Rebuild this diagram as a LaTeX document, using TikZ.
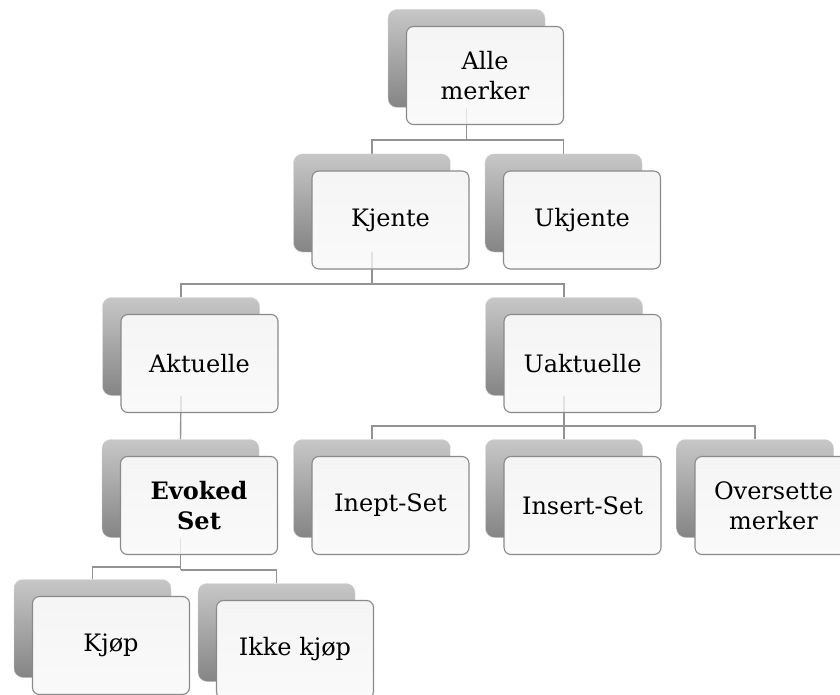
\documentclass[tikz,border=0pt]{standalone}
\usepackage{fontspec}
\setmainfont{DejaVu Serif}
\usetikzlibrary{calc}
\pgfdeclarelayer{wires}
\pgfdeclarelayer{ghost}
\pgfsetlayers{wires,main,ghost}
\definecolor{linegray}{HTML}{939393}
\definecolor{edgegray}{HTML}{8A8A8A}
\tikzset{
  backcard/.style={rectangle, rounded corners=9pt, minimum width=157pt,
    minimum height=98pt, inner sep=0pt, top color=black!22, bottom color=black!48,
    draw=black!18, line width=0.4pt},
  frontcard/.style={rectangle, rounded corners=7pt, minimum width=157pt,
    minimum height=98pt, inner sep=2pt, align=center, draw=edgegray,
    line width=1.1pt, top color=black!4, bottom color=black!2,
    font=\fontsize{24}{30}\selectfont},
  wire/.style={draw=linegray, line width=1.4pt},
  ghostwire/.style={draw=linegray, line width=1.2pt, draw opacity=0.22},
}
% one card: a shaded back panel and a lighter panel offset down and right
\newcommand{\card}[3]{%
  \node[backcard] (#1) at (#2) {};
  \node[frontcard] (#1f) at ($(#2)+(18.5,17)$) {#3};
}
\begin{document}
\begin{tikzpicture}[x=1pt,y=-1pt]
\useasboundingbox (0,0) rectangle (840,695);
\clip (0,0) rectangle (840,695);

\card{alle}{466.5,58.5}{Alle\\merker}
\card{kjente}{372,203}{Kjente}
\card{ukjente}{563.5,203}{Ukjente}
\card{aktuelle}{181,346.5}{Aktuelle}
\card{uaktuelle}{564,346.5}{Uaktuelle}
\card{evoked}{180.5,488.5}{\bfseries Evoked\\\bfseries Set}
\card{inept}{372,488.5}{Inept-Set}
\card{insert}{564,488.5}{Insert-Set}
\card{oversette}{755,488.5}{Oversette\\merker}
\card{kjop}{92.5,628.5}{Kjøp}
\card{ikke}{276.5,632.5}{Ikke kjøp}

% bus junctions of the tree
\coordinate (b1) at (466.5,140);
\coordinate (b2) at (372,284);
\coordinate (b3) at (564,426);
\coordinate (b4) at (180.5,567);
\coordinate (b5) at (180.5,570);

% connectors run behind the cards
\begin{pgfonlayer}{wires}
\draw[wire] (alle.south) -- (b1);
\draw[wire] (kjente.north) |- (b1);
\draw[wire] (ukjente.north) |- (b1);
\draw[wire] (kjente.south) -- (b2);
\draw[wire] (aktuelle.north) |- (b2);
\draw[wire] (uaktuelle.north) |- (b2);
\draw[wire] (aktuelle.south) -- (evoked.north);
\draw[wire] (uaktuelle.south) -- (b3);
\draw[wire] (inept.north) |- (b3);
\draw[wire] (insert.north) -- (b3);
\draw[wire] (oversette.north) |- (b3);
\draw[wire] (evoked.south) -- (b5);
\draw[wire] (kjop.north) |- (b4);
\draw[wire] (ikke.north) |- (b5);
\end{pgfonlayer}

% the stems shine faintly through the light front panels
\begin{pgfonlayer}{ghost}
\draw[ghostwire] (alle.south) -- (allef.south -| alle.south);
\draw[ghostwire] (kjente.south) -- (kjentef.south -| kjente.south);
\draw[ghostwire] (aktuelle.south) -- (aktuellef.south -| aktuelle.south);
\draw[ghostwire] (uaktuelle.south) -- (uaktuellef.south -| uaktuelle.south);
\draw[ghostwire] (evoked.south) -- (evokedf.south -| evoked.south);
\end{pgfonlayer}
\end{tikzpicture}
\end{document}
